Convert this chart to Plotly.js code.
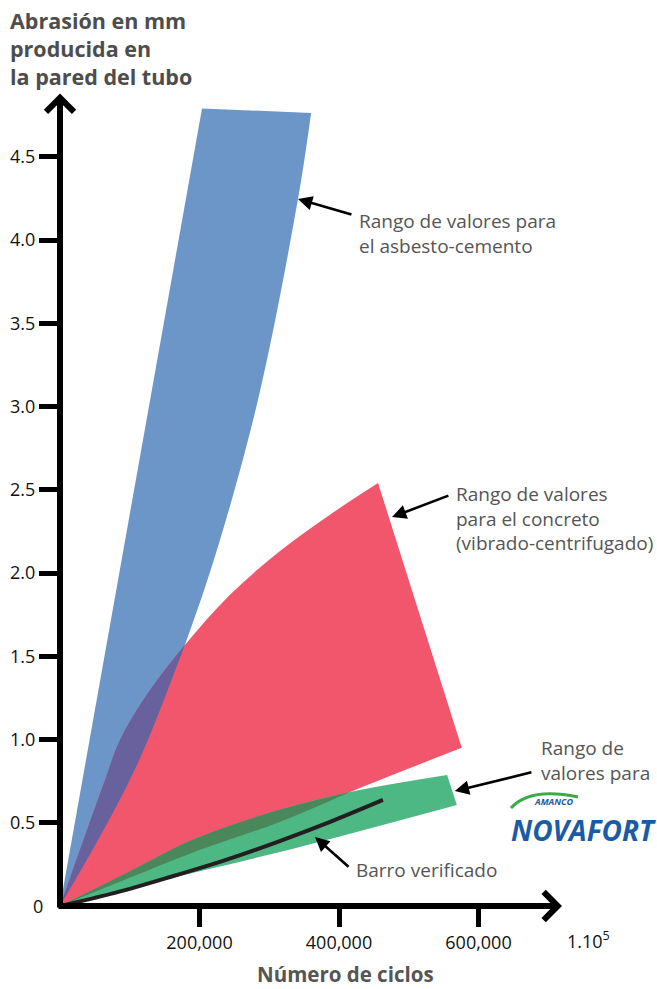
<!DOCTYPE html>
<html>
<head>
<meta charset="utf-8">
<script src="https://cdn.plot.ly/plotly-3.0.1.min.js"></script>
<style>html,body{margin:0;padding:0;background:#fff;}#chart{width:657px;height:989px;}</style>
</head>
<body>
<div id="chart"></div>
<script>
// ---- Data (x = número de ciclos, y = abrasión en mm) ----
// Asbesto-cemento band: left edge + top edge, and curved right edge
const blueLeftX  = [0, 203600, 360000];
const blueLeftY  = [0, 4.79, 4.763];
const blueRightX = [0, 54500, 100000, 126000, 179000, 225000, 283900, 341200, 360000];
const blueRightY = [0, 0.396, 0.757, 0.997, 1.568, 2.138, 3.04, 4.246, 4.763];
// Concreto band
const redUpperX = [0, 64500, 86000, 129000, 179000, 243700, 315000, 387000, 456000];
const redUpperY = [0, 0.757, 0.997, 1.297, 1.568, 1.87, 2.13, 2.35, 2.54];
const redLowerX = [0, 100000, 191000, 315000, 416000, 576000];
const redLowerY = [0, 0.17, 0.322, 0.505, 0.685, 0.95];
// Novafort band
const greenUpperX = [0, 96000, 191000, 308000, 416000, 555000];
const greenUpperY = [0, 0.20, 0.40, 0.57, 0.685, 0.787];
const greenLowerX = [0, 191000, 315000, 569000];
const greenLowerY = [0, 0.20, 0.324, 0.607];
// Barro verificado
const clayX = [0, 80000, 158000, 240000, 315000, 390000, 463000];
const clayY = [0, 0.08, 0.174, 0.28, 0.39, 0.51, 0.637];
// Crossing points of the bands
const blueRedCrossX = 179000;
const redGreenCrossX = 416000;
// Ticks
const xTickVals = [200000, 400000, 600000];
const xTickText = ['200,000', '400,000', '600,000'];
const yTickVals = [0.5, 1.0, 1.5, 2.0, 2.5, 3.0, 3.5, 4.0, 4.5];
const yTickText = ['0.5', '1.0', '1.5', '2.0', '2.5', '3.0', '3.5', '4.0', '4.5'];

// ---- helpers ----
function upTo(xs, ys, lim) {
  const ox = [], oy = [];
  xs.forEach((v, i) => { if (v <= lim) { ox.push(v); oy.push(ys[i]); } });
  return [ox, oy];
}
const FONT = 'Open Sans, Noto Sans, sans-serif';

// a band = edge A (no fill) + edge B filled to edge A
function bandTraces(ax, ay, aShape, bx, by, bShape, color) {
  return [
    { x: ax, y: ay, type: 'scatter', mode: 'lines', line: { width: 0, color: color, shape: aShape, smoothing: 1 }, hoverinfo: 'skip' },
    { x: bx, y: by, type: 'scatter', mode: 'lines', fill: 'tonexty', fillcolor: color,
      line: { width: 0, color: color, shape: bShape, smoothing: 1 }, hoverinfo: 'skip' }
  ];
}
const [ru_x, ru_y] = upTo(redUpperX, redUpperY, blueRedCrossX);
const [br_x, br_y] = upTo(blueRightX, blueRightY, blueRedCrossX);
const [gu_x, gu_y] = upTo(greenUpperX, greenUpperY, redGreenCrossX);
const [rl_x, rl_y] = upTo(redLowerX, redLowerY, redGreenCrossX);

const traces = [].concat(
  bandTraces(blueLeftX, blueLeftY, 'linear', blueRightX, blueRightY, 'spline', '#6C96C8'),
  bandTraces(redUpperX, redUpperY, 'spline', redLowerX, redLowerY, 'spline', '#F2566C'),
  bandTraces(ru_x, ru_y, 'spline', br_x, br_y, 'spline', '#68619E'),
  bandTraces(greenUpperX, greenUpperY, 'spline', greenLowerX, greenLowerY, 'spline', '#4EB884'),
  bandTraces(gu_x, gu_y, 'spline', rl_x, rl_y, 'spline', '#4A885C'),
  [{ x: clayX, y: clayY, type: 'scatter', mode: 'lines',
     line: { color: '#231F20', width: 4, shape: 'spline' }, hoverinfo: 'skip' }]
);

const txt = { family: FONT, size: 19, color: '#555555' };
function pointer(hx, hy, tx, ty) {
  return { x: hx, y: hy, ax: tx, ay: ty, xref: 'x', yref: 'y', axref: 'x', ayref: 'y',
           text: '', showarrow: true, arrowhead: 2, arrowsize: 1.1, arrowwidth: 2.6, arrowcolor: '#000' };
}
function label(x, y, text) {
  return { x: x, y: y, xref: 'x', yref: 'y', text: text, showarrow: false,
           xanchor: 'left', yanchor: 'middle', align: 'left', font: txt };
}

const annotations = [
  // axes with arrow heads
  { x: 719700, y: 0, ax: -4300, ay: 0, xref: 'x', yref: 'y', axref: 'x', ayref: 'y', text: '',
    showarrow: true, arrowhead: 4, arrowsize: 0.9, arrowwidth: 6, arrowcolor: '#000' },
  { x: 0, y: 4.88, ax: 0, ay: -0.018, xref: 'x', yref: 'y', axref: 'x', ayref: 'y', text: '',
    showarrow: true, arrowhead: 4, arrowsize: 0.9, arrowwidth: 6, arrowcolor: '#000' },
  // pointers
  pointer(341200, 4.246, 420000, 4.15),
  pointer(476000, 2.336, 559000, 2.468),
  pointer(566000, 0.69, 678000, 0.805),
  pointer(365600, 0.414, 415800, 0.228),
  // labels
  label(426000, 4.04, 'Rango de valores para<br>el asbesto-cemento'),
  label(565000, 2.33, 'Rango de valores<br>para el concreto<br>(vibrado-centrifugado)'),
  label(687000, 0.874, 'Rango de<br>valores para'),
  label(421000, 0.216, 'Barro verificado'),
  // Novafort logo
  { x: 0.969, y: 0.1275, xref: 'paper', yref: 'paper', text: '<b><i>AMANCO</i></b>', showarrow: false,
    font: { family: FONT, size: 9, color: '#1B5BA6' }, xanchor: 'center', yanchor: 'middle' },
  { x: 1.0255, y: 0.0931, xref: 'paper', yref: 'paper', text: '<b><i>NOVAFORT</i></b>', showarrow: false,
    font: { family: FONT, size: 28, color: '#1B5BA6' }, xanchor: 'center', yanchor: 'middle' },
  // zero label, 1.10^5, axis title
  { x: 0, y: 0, xref: 'paper', yref: 'y', text: '0', showarrow: false, xanchor: 'right', yanchor: 'middle',
    xshift: -15, font: { family: FONT, size: 18, color: '#111' } },
  { x: 1.037, y: -0.0417, xref: 'paper', yref: 'paper', text: '1.10<sup>5</sup>', showarrow: false,
    xanchor: 'center', yanchor: 'middle', font: { family: FONT, size: 18, color: '#111' } },
  { x: 408600, y: -0.0835, xref: 'x', yref: 'paper', text: '<b>Número de ciclos</b>', showarrow: false,
    borderpad: 0, xanchor: 'center', yanchor: 'middle', font: { family: FONT, size: 20.5, color: '#555555' } }
];

const axisCommon = { showgrid: false, zeroline: false, showline: false, ticks: 'outside',
  ticklen: 20, tickwidth: 5, tickcolor: '#000', fixedrange: true,
  tickfont: { family: FONT, size: 18, color: '#111' } };

const layout = {
  width: 657, height: 989,
  margin: { l: 60, r: 87, t: 90, b: 83 },
  paper_bgcolor: '#fff', plot_bgcolor: '#fff',
  showlegend: false,
  title: { text: '<b>Abrasión en mm<br>producida en<br>la pared del tubo</b>',
           xref: 'paper', yref: 'container', x: 0, xanchor: 'left',
           y: 0.971, yanchor: 'top', pad: { l: -50 },
           font: { family: FONT, size: 21.5, color: '#4D4D4D' } },
  xaxis: Object.assign({}, axisCommon, { range: [0, 731190], tickvals: xTickVals, ticktext: xTickText }),
  yaxis: Object.assign({}, axisCommon, { range: [0, 4.901], tickvals: yTickVals, ticktext: yTickText }),
  shapes: [
    { type: 'path', xref: 'paper', yref: 'paper',
      path: 'M 0.8843 0.1201 Q 0.9216 0.1460 1.0157 0.1336',
      line: { color: '#3DAA4A', width: 3 } }
  ],
  annotations: annotations
};

Plotly.newPlot('chart', traces, layout, { displayModeBar: false, staticPlot: true });
</script>
</body>
</html>
